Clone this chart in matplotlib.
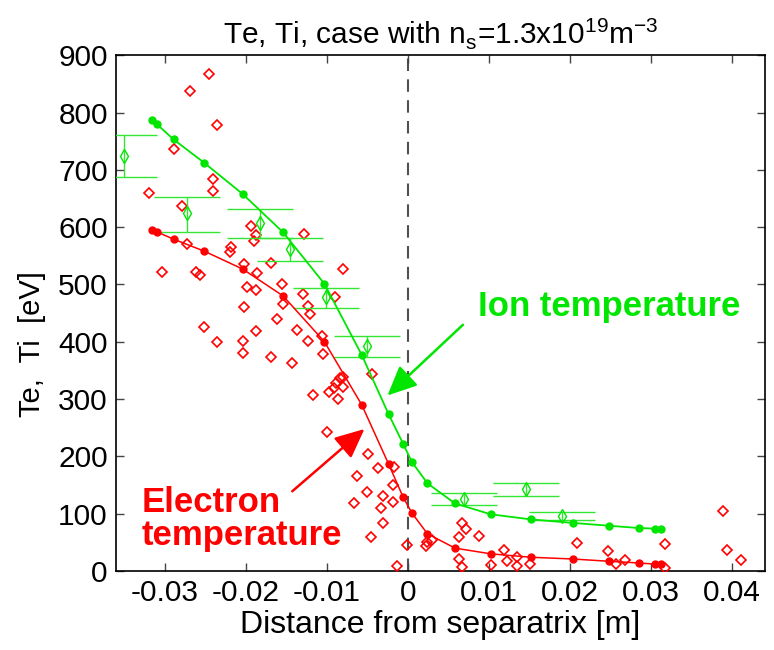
import matplotlib
matplotlib.use('agg')
import matplotlib.pyplot as plt
import numpy as np

plt.rcParams['font.family'] = ['Liberation Sans', 'DejaVu Sans']
plt.rcParams['axes.unicode_minus'] = False
plt.rcParams['mathtext.fontset'] = 'custom'
plt.rcParams['mathtext.rm'] = 'Liberation Sans'

# model profiles (filled circles + line)
dist = [-0.0316, -0.0310, -0.0289, -0.0251, -0.0204, -0.0154, -0.0103, -0.0057,
        -0.0024, -0.0006, 0.0005, 0.0024, 0.0058, 0.0102, 0.0152, 0.0203,
        0.0248, 0.0285, 0.0305, 0.0312]
ti_model = [787, 780, 753, 712, 658, 591, 501, 377, 274, 222, 190, 153, 118, 99,
            90, 84, 79, 75, 74, 73]
te_model = [595, 592, 579, 558, 527, 480, 400, 290, 187, 129, 101, 65, 40, 30,
            24, 21, 17, 14, 12, 12]

# measured Ti with error bars
ti_x = [-0.0350, -0.0273, -0.0183, -0.0146, -0.0101, -0.0050, 0.0069, 0.0145, 0.0190]
ti_y = [724, 624, 607, 562, 478, 392, 126, 143, 96]
ti_lo = [687, 591, 581, 541, 459, 373, 115, 131, 89]
ti_hi = [760, 652, 631, 581, 494, 410, 136, 153, 103]

# measured Te
te_x = [-0.0246, -0.0269, -0.0236, -0.0288, -0.0240, -0.0240, -0.0320, -0.0279,
        -0.0193, -0.0187, -0.0190, -0.0273, -0.0218, -0.0220, -0.0304, -0.0261,
        -0.0257, -0.0202, -0.0186, -0.0198, -0.0187, -0.0202, -0.0252, -0.0187,
        -0.0236, -0.0204, -0.0204, -0.0128, -0.0169, -0.0080, -0.0155, -0.0129,
        -0.0090, -0.0154, -0.0123, -0.0121, -0.0161, -0.0137, -0.0123, -0.0106,
        -0.0105, -0.0169, -0.0143, -0.0044, -0.0080, -0.0084, -0.0089, -0.0080,
        -0.0097, -0.0086, -0.0117, -0.0091, -0.0100, -0.0049, -0.0037, -0.0017,
        -0.0063, -0.0018, -0.0050, -0.0031, -0.0019, -0.0066, -0.0033, -0.0031,
        -0.0045, -0.0001, -0.0014, 0.0024, 0.0022, 0.0030, 0.0067, 0.0071,
        0.0063, 0.0088, 0.0063, 0.0067, 0.0102, 0.0119, 0.0122, 0.0134,
        0.0134, 0.0150, 0.0208, 0.0247, 0.0256, 0.0268, 0.0317, 0.0317,
        0.0388, 0.0393, 0.0411]
te_y = [867, 837, 778, 736, 684, 663, 659, 637,
        602, 586, 576, 570, 565, 556, 521, 521,
        516, 535, 520, 495, 490, 460, 426, 419,
        399, 401, 380, 588, 537, 527, 501, 483,
        478, 466, 462, 448, 440, 420, 401, 410,
        378, 373, 363, 344, 338, 337, 328, 321,
        312, 300, 307, 319, 242, 204, 180, 182,
        166, 150, 138, 131, 120, 118, 110, 84,
        59, 45, 9, 51, 44, 54, 84, 73,
        59, 61, 21, 7, 10, 37, 17, 24,
        9, 12, 49, 35, 12, 19, 47, 5,
        105, 37, 19]

red = '#ff0000'
green = '#00e600'

fig = plt.figure(figsize=(7.74, 6.5), dpi=100)
ax = fig.add_axes([0.150, 0.1215, 0.838, 0.7935])

ax.axvline(0, color='#505050', lw=1.5, ls=(0, (6, 4)), zorder=1)

ax.plot(te_x, te_y, 'D', ms=5, mfc='none', mec=red, mew=1.2, zorder=3)

yerr = [np.array(ti_y) - np.array(ti_lo), np.array(ti_hi) - np.array(ti_y)]
ax.errorbar(ti_x, ti_y, yerr=yerr, fmt='d', ms=7, mfc='none', mec=green, mew=1.0,
            ecolor='#33e633', elinewidth=1.0, capsize=24, capthick=1.6, zorder=4)

ax.plot(dist, te_model, '-o', color=red, lw=1.1, ms=5, zorder=5)
ax.plot(dist, ti_model, '-o', color=green, lw=1.3, ms=5, zorder=5)

ax.annotate('', xy=(-0.00278, 303), xytext=(0.00703, 433),
            arrowprops=dict(arrowstyle='-|>,head_length=1.2,head_width=0.55',
                            mutation_scale=15, color=green, lw=1.8))
ax.annotate('', xy=(-0.00511, 251), xytext=(-0.01453, 136),
            arrowprops=dict(arrowstyle='-|>,head_length=1.2,head_width=0.55',
                            mutation_scale=15, color=red, lw=1.8))

ax.text(0.0248, 462, 'Ion temperature', color=green, fontsize=25,
        fontweight='bold', ha='center', va='center')
ax.text(-0.0329, 90, 'Electron\ntemperature', color=red, fontsize=25,
        fontweight='bold', ha='left', va='center', linespacing=1.0)

ax.set_xlim(-0.036, 0.044)
ax.set_ylim(0, 900)
ax.set_xticks([-0.03, -0.02, -0.01, 0, 0.01, 0.02, 0.03, 0.04])
ax.set_xticklabels(['-0.03', '-0.02', '-0.01', '0', '0.01', '0.02', '0.03', '0.04'])
ax.set_yticks(np.arange(0, 901, 100))
ax.tick_params(direction='in', top=True, right=True, length=6, width=1,
               labelsize=21.5, color='#444444', pad=6)
for s in ax.spines.values():
    s.set_linewidth(1.2)

ax.set_xlabel('Distance from separatrix [m]', fontsize=23, labelpad=2)
ax.set_ylabel('Te,  Ti  [eV]', fontsize=21, labelpad=6)
ax.yaxis.set_label_coords(-0.108, 0.44)
ax.set_title(r'Te, Ti, case with n$_\mathregular{s}$=1.3x10$^\mathregular{19}$m$^\mathregular{-3}$',
             fontsize=21.5, pad=8)

fig.savefig('out.png', dpi=100)
